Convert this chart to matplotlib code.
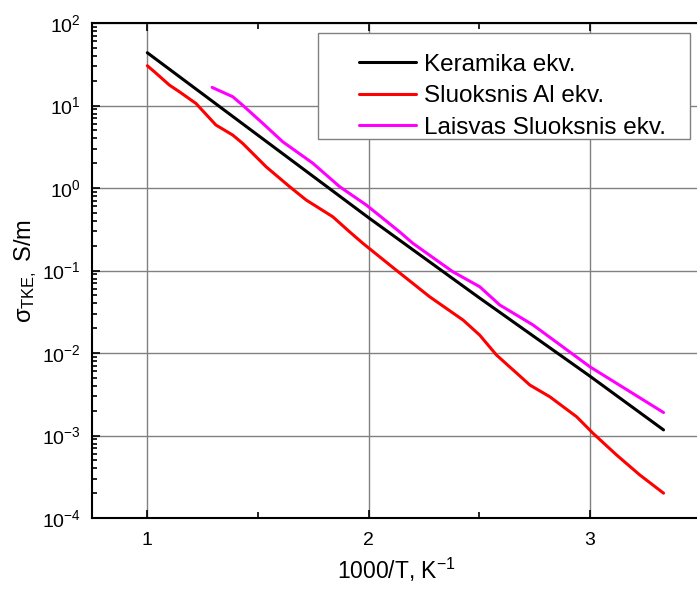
import matplotlib
matplotlib.use("Agg")
import matplotlib.pyplot as plt
from matplotlib.patches import Rectangle
from matplotlib.ticker import FixedLocator, LogLocator, MultipleLocator, NullFormatter

plt.rcParams["font.family"] = ["Liberation Sans", "DejaVu Sans"]
plt.rcParams["mathtext.fontset"] = "custom"
plt.rcParams["mathtext.rm"] = "Liberation Sans"
plt.rcParams["mathtext.it"] = "Liberation Sans"
plt.rcParams["mathtext.default"] = "regular"

# ── Data ──────────────────────────────────────────────────────────────────────
x_keramika = [1.0, 1.5, 2.0, 2.5, 3.0, 3.333]
y_keramika = [43.7, 4.37, 0.437, 0.0468, 0.00525, 0.00117]

x_sluoksnis = [1.0, 1.032, 1.10, 1.145, 1.22, 1.31, 1.386, 1.431, 1.537, 1.643,
               1.718, 1.838, 1.914, 1.974, 2.125, 2.276, 2.427, 2.502, 2.578,
               2.729, 2.819, 2.940, 3.015, 3.121, 3.226, 3.333]
y_sluoksnis = [30.4, 25.7, 17.7, 14.7, 10.6, 5.81, 4.39, 3.48, 1.81, 1.04,
               0.716, 0.449, 0.295, 0.214, 0.101, 0.0481, 0.0251, 0.0165,
               0.00946, 0.00409, 0.00295, 0.00169, 0.00106, 0.00058,
               0.000332, 0.0002]

x_laisvas = [1.293, 1.386, 1.431, 1.522, 1.612, 1.748, 1.869, 1.99, 2.14, 2.20,
             2.381, 2.502, 2.593, 2.743, 3.0, 3.333]
y_laisvas = [16.6, 12.8, 10.1, 6.08, 3.64, 2.0, 1.04, 0.622, 0.295, 0.214,
             0.0966, 0.0637, 0.0382, 0.0219, 0.00682, 0.0019]

labels = ["Keramika ekv.", "Sluoksnis Al ekv.", "Laisvas Sluoksnis ekv."]
colors = ["black", "#FF0000", "#FF00FF"]
y_decades = [1e-4, 1e-3, 1e-2, 1e-1, 1e0, 1e1, 1e2]

# ── Figure ────────────────────────────────────────────────────────────────────
fig = plt.figure(figsize=(6.97, 5.92), dpi=100, facecolor="white")
ax = fig.add_axes([0.132, 0.125, 0.873, 0.836])

series = [(x_keramika, y_keramika), (x_sluoksnis, y_sluoksnis), (x_laisvas, y_laisvas)]
for (xs, ys), lab, c in zip(series, labels, colors):
    ax.plot(xs, ys, color=c, lw=2.2, label=lab, zorder=3,
            solid_capstyle="round", solid_joinstyle="round")

ax.set_yscale("log")
ax.set_xlim(0.75, 3.5)
ax.set_ylim(1e-4, 1e2)

ax.xaxis.set_major_locator(MultipleLocator(1))
ax.xaxis.set_minor_locator(MultipleLocator(0.5))
ax.yaxis.set_major_locator(FixedLocator(y_decades))
ax.yaxis.set_minor_locator(LogLocator(base=10, subs=range(2, 10), numticks=20))
ax.yaxis.set_minor_formatter(NullFormatter())

ax.grid(True, which="major", color="#808080", lw=1.0, zorder=1)
ax.set_axisbelow(True)

ax.tick_params(axis="x", which="both", direction="in", top=True, bottom=True,
               labelsize=14, pad=10, width=1.2)
ax.tick_params(axis="x", which="major", length=6)
ax.tick_params(axis="x", which="minor", length=4)
ax.tick_params(axis="y", which="both", direction="in", left=True, right=False,
               labelsize=14, pad=8, width=1.2)
ax.tick_params(axis="y", which="major", length=6)
ax.tick_params(axis="y", which="minor", length=3.5)

for side in ["left", "bottom", "top"]:
    ax.spines[side].set_linewidth(1.5)
ax.spines["right"].set_visible(False)

ax.set_xlabel("1000/T, K$^{-1}$", fontsize=16.5, labelpad=5)
ax.set_ylabel("σ$_{TKE,}$ S/m", fontsize=17, labelpad=2)

# legend frame drawn separately so padding matches the reference
ax.add_patch(Rectangle((0.371, 0.766), 0.612, 0.214, transform=ax.transAxes,
                       facecolor="white", edgecolor="#808080", lw=1.0, zorder=4))
ax.legend(loc="upper left", bbox_to_anchor=(0.439, 0.938), frameon=False,
          fontsize=17.5, handlelength=2.35, handletextpad=0.3, labelspacing=0.39,
          borderpad=0, borderaxespad=0).set_zorder(5)

plt.savefig("out.png", dpi=100, facecolor="white")
plt.close()
